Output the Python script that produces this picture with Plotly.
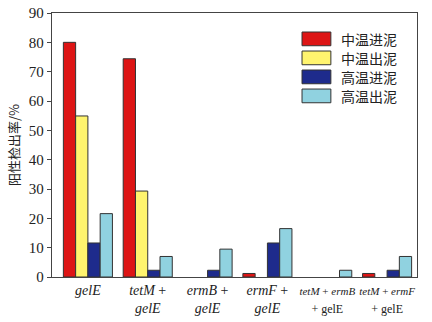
import plotly.graph_objects as go

# Gene combinations (x categories) and their tick labels
categories = ["gelE", "tetM+gelE", "ermB+gelE", "ermF+gelE", "tetM+ermB+gelE", "tetM+ermF+gelE"]
tick_labels = [
    "<i>gelE</i>",
    "<i>tetM</i> +<br><i>gelE</i>",
    "<i>ermB</i> +<br><i>gelE</i>",
    "<i>ermF</i> +<br><i>gelE</i>",
    "<span style='font-size:11px'><i>tetM</i> + <i>ermB</i></span><br><span style='font-size:12px'>+ gelE</span>",
    "<span style='font-size:11px'><i>tetM</i> + <i>ermF</i></span><br><span style='font-size:12px'>+ gelE</span>",
]

# Positive detection rate (%) per sludge type
series_names = ["中温进泥", "中温出泥", "高温进泥", "高温出泥"]
meso_in = [80.0, 74.4, 0.0, 1.2, 0.0, 1.2]
meso_out = [54.9, 29.3, 0.0, 0.0, 0.0, 0.0]
thermo_in = [11.6, 2.3, 2.3, 11.6, 0.0, 2.3]
thermo_out = [21.6, 7.0, 9.5, 16.5, 2.3, 7.0]
series_values = [meso_in, meso_out, thermo_in, thermo_out]
colors = ["#DD1515", "#FFF46E", "#1E2B8C", "#90D2E0"]

fig = go.Figure()
for name, vals, col in zip(series_names, series_values, colors):
    # no outline on empty bars so zero values leave no mark
    widths = [1 if v > 0 else 0 for v in vals]
    fig.add_trace(go.Bar(
        x=categories, y=vals, name=name,
        marker=dict(color=col, line=dict(color="#333333", width=widths)),
        showlegend=False,
    ))

# Legend drawn as boxes + labels in the upper-right corner
for i, (name, col) in enumerate(zip(series_names, colors)):
    y0 = 0.902 - i * 0.072
    fig.add_shape(type="rect", xref="paper", yref="paper",
                  x0=0.685, x1=0.764, y0=y0 - 0.026, y1=y0 + 0.026,
                  fillcolor=col, line=dict(color="#333333", width=1))
    fig.add_annotation(xref="paper", yref="paper", x=0.785, y=y0,
                       text=name, showarrow=False, xanchor="left", yanchor="middle",
                       font=dict(family="Noto Sans CJK SC", size=14, color="#222222"))

axis_font = dict(family="Liberation Serif", size=15, color="#222222")

fig.update_layout(
    width=432, height=322,
    margin=dict(l=52, r=15, t=13, b=45),
    paper_bgcolor="white", plot_bgcolor="white",
    barmode="group", bargap=0.18, bargroupgap=0,
    font=axis_font,
    xaxis=dict(
        tickmode="array", tickvals=categories, ticktext=tick_labels,
        range=[-0.6, 5.5],
        tickangle=0, automargin=False,
        showline=True, linecolor="#444444", linewidth=1.3, mirror=True,
        ticks="", showgrid=False, tickfont=dict(family="Liberation Serif", size=14, color="#222222"),
    ),
    yaxis=dict(
        range=[0, 90], dtick=10, showline=True, linecolor="#444444", linewidth=1.3,
        mirror=True, ticks="outside", ticklen=4, tickcolor="#444444",
        showgrid=False, zeroline=False, tickfont=axis_font, automargin=False,
        title=dict(text="阳性检出率/%", font=dict(family="Noto Sans CJK SC", size=13, color="#222222"),
                   standoff=6),
    ),
)

fig.write_html("out.html")
